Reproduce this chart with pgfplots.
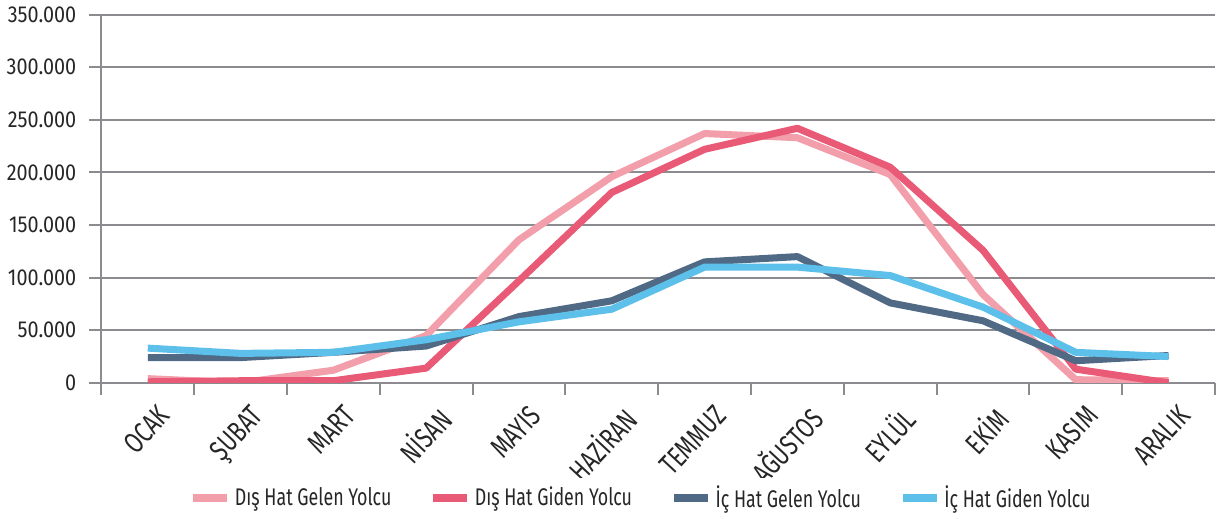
\documentclass[border=0pt]{standalone}
\usepackage{fontspec}
\setmainfont{Fira Sans}[FakeStretch=0.86]
\newfontfamily\condfont{Fira Sans}[FakeStretch=0.74]
\usepackage{pgfplots}
\pgfplotsset{compat=1.18}

\definecolor{disgelen}{HTML}{F29EAB}
\definecolor{disgiden}{HTML}{E85A76}
\definecolor{icgelen}{HTML}{506A86}
\definecolor{icgiden}{HTML}{5CC0EA}
\definecolor{gridgray}{HTML}{8C8C90}

\begin{document}
\begin{tikzpicture}
\begin{axis}[
    scale only axis,
    width=555pt, height=183.5pt,
    xmin=0.5, xmax=12.5,
    ymin=0, ymax=350000,
    axis x line=bottom, axis y line=left,
    axis line style={-, draw=gridgray, line width=1pt},
    xtick={1,...,12},
    xticklabels={OCAK,ŞUBAT,MART,NİSAN,MAYIS,HAZİRAN,TEMMUZ,AĞUSTOS,EYLÜL,EKİM,KASIM,ARALIK},
    major x tick style={draw=none},
    minor xtick={0.5,1.5,...,12.5},
    minor x tick style={draw=gridgray, line width=1pt},
    minor tick length=6pt,
    ytick={0,50000,...,350000},
    ymajorgrids,
    grid style={draw=gridgray, line width=1pt},
    y tick style={draw=gridgray, line width=1pt},
    tick align=outside,
    major tick length=6pt,
    scaled y ticks=false,
    y tick label style={/pgf/number format/fixed, /pgf/number format/1000 sep={.},
        /pgf/number format/assume math mode=true, xshift=-3pt,
        font=\fontsize{11.5}{13}\selectfont, text=black!85},
    x tick label style={rotate=47, anchor=north east, font=\condfont\fontsize{14.5}{16}\selectfont,
        text=black!85, inner sep=1pt, xshift=1pt, yshift=-5pt},
    legend style={at={(0.5,0)}, anchor=north, yshift=-47pt, xshift=-8pt, draw=none,
        font=\condfont\fontsize{12}{14}\selectfont, text=black!85,
        legend columns=4, /tikz/every even column/.append style={column sep=17pt}},
    legend image code/.code={\draw[#1] (0cm,0cm) -- (0.6cm,0cm);},
    every axis plot/.append style={line width=3.5pt, line join=round},
]
\addplot[disgelen] coordinates {
    (1,4000) (2,0) (3,12000) (4,45000) (5,136000) (6,196000)
    (7,237000) (8,233000) (9,198000) (10,84000) (11,3000) (12,2000)
};
\addlegendentry{Dış Hat Gelen Yolcu}
\addplot[disgiden] coordinates {
    (1,1000) (2,2000) (3,2000) (4,14000) (5,97000) (6,181000)
    (7,222000) (8,242000) (9,205000) (10,126000) (11,13000) (12,0)
};
\addlegendentry{Dış Hat Giden Yolcu}
\addplot[icgelen] coordinates {
    (1,24000) (2,24000) (3,29000) (4,35000) (5,63000) (6,78000)
    (7,115000) (8,120000) (9,76000) (10,59000) (11,21000) (12,26000)
};
\addlegendentry{İç Hat Gelen Yolcu}
\addplot[icgiden] coordinates {
    (1,33000) (2,28000) (3,29000) (4,41000) (5,58000) (6,70000)
    (7,110000) (8,110000) (9,102000) (10,72000) (11,29000) (12,25000)
};
\addlegendentry{İç Hat Giden Yolcu}
\end{axis}
\end{tikzpicture}
\end{document}
